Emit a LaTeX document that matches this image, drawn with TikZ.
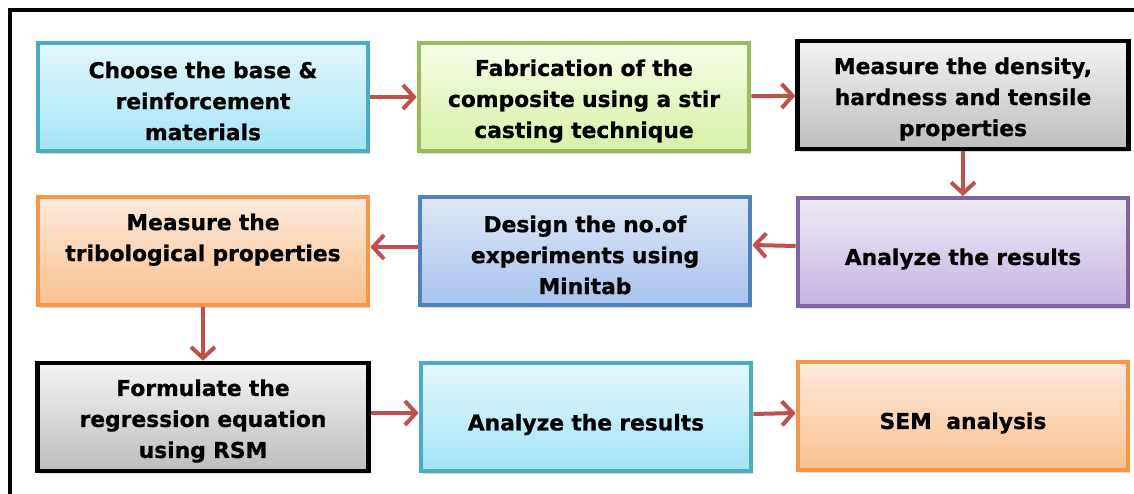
\documentclass[tikz,border=0pt]{standalone}
\usepackage{fontspec}
\setmainfont{DejaVu Sans}[BoldFeatures={FakeBold=0.8}]
\usetikzlibrary{arrows.meta,shadows}
\definecolor{arrowred}{HTML}{C0504D}
\definecolor{aquaB}{HTML}{4BACC6}\definecolor{aquaT}{HTML}{E4F8FD}\definecolor{aquaBt}{HTML}{A3E3F8}
\definecolor{greenB}{HTML}{9BBB59}\definecolor{greenT}{HTML}{F6FDE6}\definecolor{greenBt}{HTML}{D8F2A6}
\definecolor{grayT}{HTML}{F4F4F4}\definecolor{grayBt}{HTML}{BDBDBD}
\definecolor{orangeB}{HTML}{F79646}\definecolor{orangeT}{HTML}{FDEBDD}\definecolor{orangeBt}{HTML}{FBC08E}
\definecolor{blueB}{HTML}{4F81BD}\definecolor{blueT}{HTML}{DEE8F5}\definecolor{blueBt}{HTML}{A8C3EE}
\definecolor{purpleB}{HTML}{8064A2}\definecolor{purpleT}{HTML}{EFEAF6}\definecolor{purpleBt}{HTML}{C6B4E0}
\newcommand{\bxtext}[2]{\parbox{324pt}{\vspace*{#1}\centering #2}}
\tikzset{
  x=1pt, y=-1pt,
  stepbox/.style={rectangle, minimum width=328pt, minimum height=108pt, line width=4pt,
    align=center, text width=324pt,
    font=\fontsize{21.8}{31}\selectfont\bfseries,
    drop shadow={shadow xshift=2pt, shadow yshift=-3pt, opacity=0.3}},
  aqua/.style={stepbox, draw=aquaB, top color=aquaT, bottom color=aquaBt},
  greenbox/.style={stepbox, draw=greenB, top color=greenT, bottom color=greenBt},
  graybox/.style={stepbox, line width=4.6pt, draw=black, top color=grayT, bottom color=grayBt},
  orangebox/.style={stepbox, draw=orangeB, top color=orangeT, bottom color=orangeBt},
  bluebox/.style={stepbox, draw=blueB, top color=blueT, bottom color=blueBt},
  purplebox/.style={stepbox, draw=purpleB, top color=purpleT, bottom color=purpleBt},
  flow/.style={draw=arrowred, line width=4pt, -{Straight Barb[length=11pt,width=24pt]}}
}
\begin{document}
\begin{tikzpicture}
\useasboundingbox (0,0) rectangle (1134,494);
\begin{scope}
\clip (0,0) rectangle (1134,494);
\draw[line width=4pt, black] (10,10) rectangle (1145,505);
\end{scope}
\node[aqua]      (b1) at (203,97)  {\bxtext{8pt}{Choose the base \&\\reinforcement\\materials}};
\node[greenbox]  (b2) at (584,97)  {\bxtext{8pt}{Fabrication of the\\composite using a stir\\casting technique}};
\node[graybox]   (b3) at (963,95)  {\bxtext{8pt}{Measure the density,\\hardness and tensile\\properties}};
\node[orangebox] (b4) at (203,251) {Measure the\\tribological properties\\[-13pt]\strut};
\node[bluebox]   (b5) at (585,251) {\bxtext{8pt}{Design the no.of\\experiments using\\Minitab}};
\node[purplebox] (b6) at (963,252) {\bxtext{14pt}{Analyze the results}};
\node[graybox]   (b7) at (203,417) {\bxtext{8pt}{Formulate the\\regression equation\\using RSM}};
\node[aqua]      (b8) at (586,417) {\bxtext{15pt}{Analyze the results}};
\node[orangebox] (b9) at (963,416) {\bxtext{14pt}{SEM~~analysis}};
\draw[flow] (b1) -- (b2);
\draw[flow] (b2) -- (b3);
\draw[flow] (b3) -- (b6);
\draw[flow] ([yshift=6pt]b6.west) -- ([yshift=6pt]b5.east);
\draw[flow] ([yshift=4pt]b5.west) -- ([yshift=4pt]b4.east);
\draw[flow] (b4) -- (b7);
\draw[flow] ([yshift=4pt]b7.east) -- ([yshift=4pt]b8.west);
\draw[flow] ([yshift=3pt]b8.east) -- ([yshift=3pt]b9.west);
\end{tikzpicture}
\end{document}
